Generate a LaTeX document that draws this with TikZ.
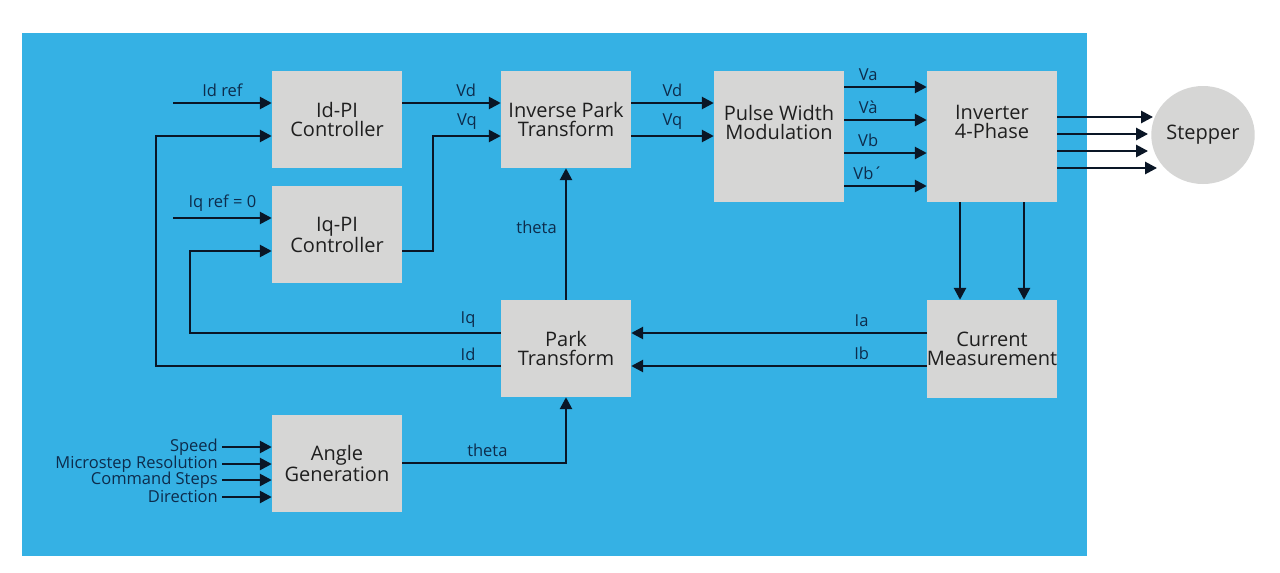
\documentclass[tikz,border=0pt]{standalone}
\usepackage{fontspec}
\setmainfont{Open Sans}
\usetikzlibrary{arrows.meta,calc,shapes.geometric}
\definecolor{bg}{HTML}{35B1E4}
\definecolor{boxc}{HTML}{D6D6D5}
\definecolor{lab}{HTML}{0D2C4C}
\definecolor{ln}{HTML}{0A1626}
\tikzset{
 blk/.style={fill=boxc, draw=none, minimum width=130pt, minimum height=97pt, align=center,
   font=\fontsize{20}{19}\selectfont, text=black!88, inner sep=0pt},
 btxt/.style={align=center, font=\fontsize{20}{19}\selectfont, text=black!88, inner sep=0pt},
 arr/.style={draw=ln, line width=2.6pt, -{Triangle[length=12pt,width=12pt]}},
 lbl/.style={text=lab, font=\fontsize{16.5}{16.5}\selectfont, inner sep=0pt},
 inlbl/.style={text=lab, font=\fontsize{16.5}{16.5}\selectfont, inner sep=0pt, anchor=east},
}
\begin{document}
\begin{tikzpicture}[x=1pt,y=-1pt]
\useasboundingbox (0,0) rectangle (1280,573);
\fill[white] (0,0) rectangle (1280,573);
\fill[bg] (22,33) rectangle (1087,556);

% blocks
\node[blk] (idpi) at (337,119.5) {Id-PI\\Controller};
\node[blk] (iqpi) at (337,234.5) {Iq-PI\\Controller};
\node[blk] (ipt) at (566,119.5) {Inverse Park\\Transform};
\node[blk, minimum height=131pt] (pwm) at (779,136.5) {};
\node[btxt] (pwmt) at (779,122) {Pulse Width\\Modulation};
\node[blk, minimum height=131pt] (inv) at (992,136.5) {};
\node[btxt] (invt) at (992,122) {Inverter\\4-Phase};
\node[blk, minimum height=98pt] (cm) at (992,349) {Current\\Measurement};
\node[blk] (park) at (566,348.5) {Park\\Transform};
\node[blk] (ang) at (337,463.5) {Angle\\Generation};
\node[ellipse, fill=boxc, minimum width=97pt, minimum height=98pt, inner sep=0pt,
      font=\fontsize{20}{19}\selectfont, text=black!88] (stepper) at (1203,135) {Stepper};

% references
\coordinate (idref) at (173,103);
\coordinate (iqref) at (173,218);
\draw[arr] (idref) -- (idref -| idpi.west) node[lbl, midway, above=5pt] {Id ref};
\draw[arr] (iqref) -- (iqref -| iqpi.west) node[lbl, midway, above=5pt] {Iq ref = 0};

% feedback
\coordinate (fbd) at (156,136);
\coordinate (fbq) at (190,251);
\draw[arr] (park.west |- 0,366) -| (fbd) -- (fbd -| idpi.west);
\draw[arr] (park.west |- 0,333) -| (fbq) -- (fbq -| iqpi.west);
\node[lbl, above=5pt] (idl) at (468,366) {Id};
\node[lbl, above=5pt] (iql) at (468,333) {Iq};

% controllers to inverse park
\draw[arr] (idpi.east |- 0,103) -- (ipt.west |- 0,103) node[lbl, pos=.65, above=5pt] {Vd};
\coordinate (vqb) at (433,251);
\draw[arr] (iqpi.east |- vqb) -- (vqb) |- (ipt.west |- 0,136) node[lbl, pos=.75, above=5pt] {Vq};

% inverse park to PWM
\draw[arr] (ipt.east |- 0,103) -- (pwm.west |- 0,103) node[lbl, midway, above=5pt] {Vd};
\draw[arr] (ipt.east |- 0,136) -- (pwm.west |- 0,136) node[lbl, midway, above=5pt] {Vq};

% PWM to inverter
\draw[arr] (pwm.east |- 0,87) -- (inv.west |- 0,87) node[lbl, pos=.29, above=5pt] {Va};
\draw[arr] (pwm.east |- 0,120) -- (inv.west |- 0,120) node[lbl, pos=.29, above=5pt] {Và};
\draw[arr] (pwm.east |- 0,153) -- (inv.west |- 0,153) node[lbl, pos=.29, above=5pt] {Vb};
\draw[arr] (pwm.east |- 0,186) -- (inv.west |- 0,186) node[lbl, pos=.29, above=5pt] {Vb´};

% inverter to stepper
\draw[arr] (inv.east |- 0,117) -- ([xshift=2pt]stepper.west |- 0,117);
\draw[arr] (inv.east |- 0,134) -- ([xshift=-3pt]stepper.west |- 0,134);
\draw[arr] (inv.east |- 0,151) -- ([xshift=-3pt]stepper.west |- 0,151);
\draw[arr] (inv.east |- 0,168) -- ([xshift=6pt]stepper.west |- 0,168);

% inverter to current measurement
\draw[arr] (inv.south -| 960,0) -- (cm.north -| 960,0);
\draw[arr] (inv.south -| 1024,0) -- (cm.north -| 1024,0);

% current measurement to park
\draw[arr] (cm.west |- 0,333) -- (park.east |- 0,333) node[lbl, pos=.22, above=5pt] {Ia};
\draw[arr] (cm.west |- 0,366) -- (park.east |- 0,366) node[lbl, pos=.22, above=5pt] {Ib};

% theta
\draw[arr] (park.north) -- (ipt.south) node[lbl, pos=.55, left=8pt] {theta};
\draw[arr] (ang.east |- 0,463) -| (park.south) node[lbl, pos=.26, above=5pt] {theta};

% angle generation inputs
\foreach \y/\t/\n in {447/Speed/a, 464/Microstep Resolution/b, 480/Command Steps/c, 497/Direction/d} {
  \coordinate (in\n) at (222,\y);
  \draw[arr] (in\n) -- (in\n -| ang.west);
  \node[inlbl] at ([xshift=-4pt]in\n) {\t};
}
\end{tikzpicture}
\end{document}
